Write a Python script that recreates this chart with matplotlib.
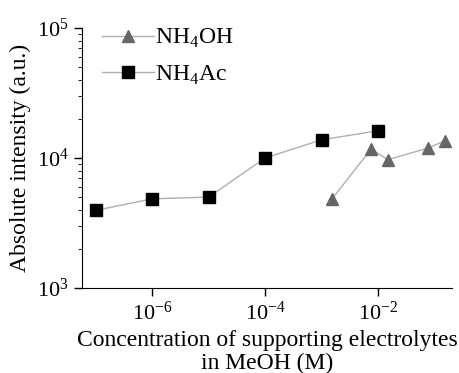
import numpy as np
import matplotlib.pyplot as plt

plt.rcParams['font.family'] = ['Liberation Serif', 'DejaVu Serif']
plt.rcParams['mathtext.fontset'] = 'custom'
plt.rcParams['mathtext.rm'] = 'Liberation Serif'

# NH4OH series
conc_oh = [1.5e-3, 7.5e-3, 1.5e-2, 7.5e-2, 1.5e-1]
int_oh = [4800, 11700, 9700, 11900, 13500]

# NH4Ac series
conc_ac = [1e-7, 1e-6, 1e-5, 1e-4, 1e-3, 1e-2]
int_ac = [3950, 4850, 5000, 10000, 13800, 16200]

fig = plt.figure(figsize=(4.59, 3.73), dpi=100)
ax = fig.add_axes([0.179, 0.228, 0.806, 0.697])

ax.plot(conc_oh, int_oh, '-^', color='#b0b0b0', lw=1, mfc='#666666', mec='#666666',
        ms=9, label='NH$_4$OH')
ax.plot(conc_ac, int_ac, '-s', color='#b0b0b0', lw=1, mfc='black', mec='black',
        ms=8, label='NH$_4$Ac')

ax.set_xscale('log')
ax.set_yscale('log')
ax.set_xlim(10**-7.24, 10**-0.69)
ax.set_ylim(1e3, 1e5)
ax.set_xticks([1e-6, 1e-4, 1e-2])
ax.set_yticks([1e3, 1e4, 1e5])

for s in ['top', 'right']:
    ax.spines[s].set_visible(False)
ax.tick_params(direction='out', labelsize=16, length=6, width=1)
ax.tick_params(which='minor', direction='out', length=3)

ax.set_xlabel('Concentration of supporting electrolytes\nin MeOH (M)', fontsize=17,
              linespacing=1.1)
ax.set_ylabel('Absolute intensity (a.u.)', fontsize=17)

ax.legend(loc='upper left', bbox_to_anchor=(-0.005, 1.085), frameon=False, fontsize=17,
          handlelength=2.2, handletextpad=0.05, labelspacing=0.55)

fig.savefig('out.png', dpi=100)
